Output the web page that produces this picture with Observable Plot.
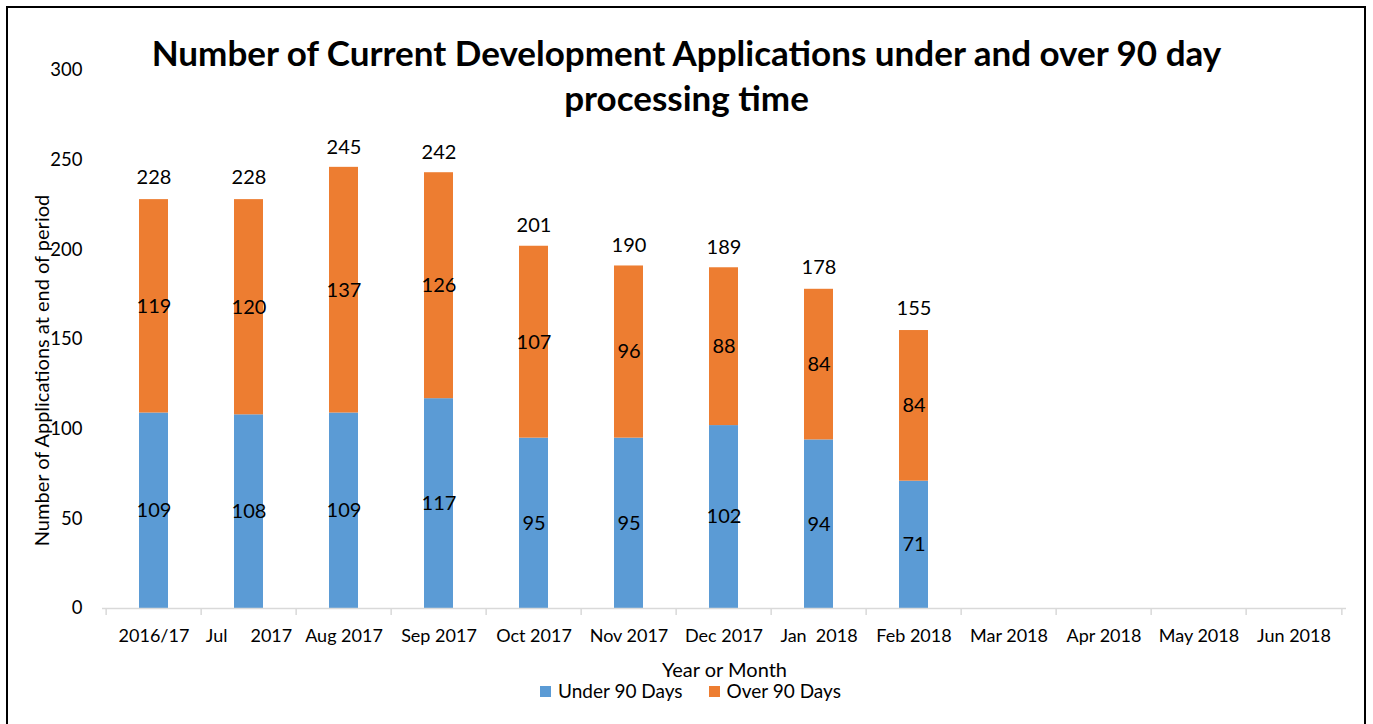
<!DOCTYPE html>
<html>
<head>
<meta charset="utf-8">
<script src="https://cdn.jsdelivr.net/npm/d3@7"></script>
<script src="https://cdn.jsdelivr.net/npm/@observablehq/plot@0.6"></script>
<style>
  html, body { margin: 0; padding: 0; background: #fff; }
  #wrap { position: relative; width: 1373px; height: 724px; overflow: hidden; font-family: Lato, "Open Sans", sans-serif; color: #000; }
  #frame { position: absolute; left: 6px; top: 6px; width: 1360px; height: 740px; border: 2px solid #000; box-sizing: border-box; pointer-events: none; }
  #title { position: absolute; left: 0; top: 30px; width: 1373px; text-align: center; font-weight: bold; font-size: 35px; line-height: 45px; }
  #legend { position: absolute; left: 4px; top: 680px; width: 1373px; display: flex; justify-content: center; gap: 26px; font-size: 19px; line-height: 22px; }
  #legend .item { display: flex; align-items: center; gap: 7px; }
  #legend .sw { width: 11px; height: 11px; display: inline-block; }
  #chart { position: absolute; left: 0; top: 0; }
  svg text { white-space: pre; }
</style>
</head>
<body>
<div id="wrap">
  <div id="chart"></div>
  <div id="title">Number of Current Development Applications under and over 90 day<br>processing time</div>
  <div id="legend"></div>
  <div id="frame"></div>
</div>
<script>
const categories = ["2016/17", "Jul     2017", "Aug 2017", "Sep 2017", "Oct 2017", "Nov 2017", "Dec 2017", "Jan  2018", "Feb 2018", "Mar 2018", "Apr 2018", "May 2018", "Jun 2018"];
const under90 = [109, 108, 109, 117, 95, 95, 102, 94, 71];
const over90 = [119, 120, 137, 126, 107, 96, 88, 84, 84];
const totals = [228, 228, 245, 242, 201, 190, 189, 178, 155];
const yTicks = [0, 50, 100, 150, 200, 250, 300];
const seriesNames = ["Under 90 Days", "Over 90 Days"];
const seriesColors = ["#5B9BD5", "#ED7D31"];
const yLabel = "Number of Applications at end of period";
const xLabel = "Year or Month";

const table = [];
under90.forEach((v, i) => {
  table.push({cat: categories[i], series: seriesNames[0], value: v});
  table.push({cat: categories[i], series: seriesNames[1], value: over90[i]});
});
const totalsTable = totals.map((t, i) => ({cat: categories[i], total: t}));

const W = 1373, H = 724, mL = 102, mR = 27;
const step = (W - mL - mR) / categories.length;

const chart = Plot.plot({
  width: W, height: H,
  marginLeft: mL, marginRight: mR, marginTop: 70, marginBottom: 116,
  style: {fontFamily: "Lato, 'Open Sans', sans-serif", fontSize: "18px", color: "#000", background: "transparent", overflow: "visible"},
  x: {domain: categories, paddingInner: 0.69, paddingOuter: 0.345, label: null},
  y: {domain: [0, 300], label: null},
  color: {domain: seriesNames, range: seriesColors},
  marks: [
    Plot.barY(table, {x: "cat", y: "value", fill: "series"}),
    Plot.ruleY([0], {stroke: "#d9d9d9", strokeWidth: 1.5}),
    Plot.axisY({ticks: yTicks, tickSize: 0, tickPadding: 20, label: null, fontSize: 18.5}),
    Plot.axisX({tickSize: 0, tickPadding: 21, label: null, fontSize: 18}),
    Plot.axisX({tickSize: 7, tickFormat: () => "", stroke: "#d9d9d9", strokeWidth: 1.5, dx: -step / 2, label: null}),
    Plot.axisX({ticks: [categories[categories.length - 1]], tickSize: 7, tickFormat: () => "", stroke: "#d9d9d9", strokeWidth: 1.5, dx: step / 2, label: null}),
    Plot.text(table, Plot.stackY({x: "cat", y: "value", z: "series", text: "value", fontSize: 20, fill: "#000"})),
    Plot.text(totalsTable, {x: "cat", y: "total", text: "total", dy: -22, fontSize: 20, fill: "#000"}),
    Plot.text([yLabel], {frameAnchor: "left", textAnchor: "middle", lineAnchor: "middle", rotate: -90, dx: -60, dy: 31, fontSize: 20, fill: "#000"}),
    Plot.text([xLabel], {frameAnchor: "bottom", lineAnchor: "middle", dy: 62, fontSize: 20, fill: "#000"})
  ]
});
document.getElementById("chart").appendChild(chart);

const legend = document.getElementById("legend");
seriesNames.forEach((name, i) => {
  const item = document.createElement("div");
  item.className = "item";
  const sw = document.createElement("span");
  sw.className = "sw";
  sw.style.background = seriesColors[i];
  const label = document.createElement("span");
  label.textContent = name;
  item.appendChild(sw);
  item.appendChild(label);
  legend.appendChild(item);
});
</script>
</body>
</html>
